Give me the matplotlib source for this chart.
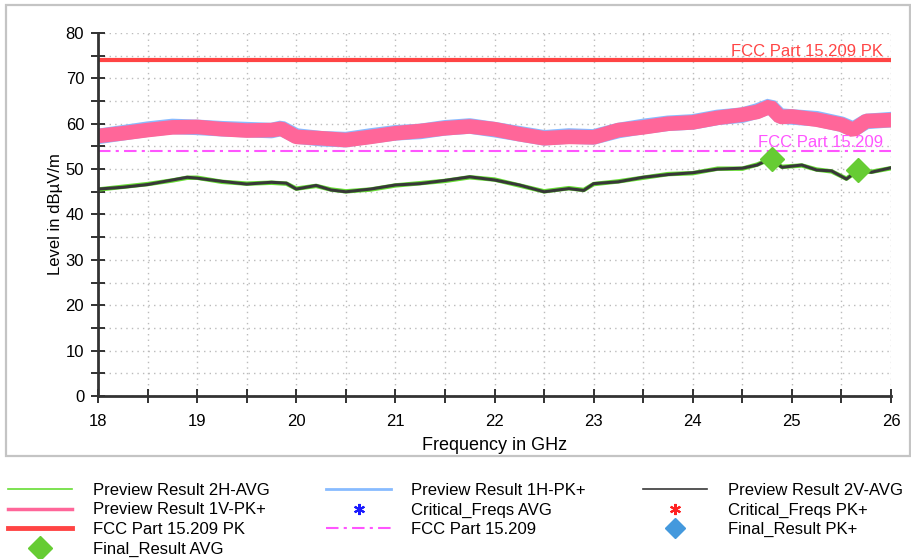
import matplotlib
matplotlib.use("Agg")
import matplotlib.pyplot as plt
from matplotlib.patches import Rectangle
from matplotlib.ticker import MultipleLocator

plt.rcParams['font.family'] = ['Liberation Sans', 'DejaVu Sans']

# peak preview scans (GHz / dBuV/m)
pk_freq = [18.0, 18.25, 18.5, 18.75, 19.0, 19.25, 19.5, 19.75, 19.85, 20.0,
           20.25, 20.5, 20.75, 21.0, 21.25, 21.5, 21.75, 22.0, 22.25, 22.5,
           22.75, 23.0, 23.25, 23.5, 23.75, 24.0, 24.25, 24.5, 24.65, 24.78,
           24.88, 25.0, 25.25, 25.5, 25.62, 25.75, 26.0]
pk_1v = [57.3, 57.9, 58.6, 59.2, 59.3, 58.8, 58.5, 58.6, 58.9, 57.1,
         56.8, 56.4, 57.1, 57.9, 58.4, 59.0, 59.4, 58.8, 57.7, 56.8,
         57.1, 57.0, 58.6, 59.2, 60.0, 60.3, 61.3, 62.0, 62.6, 63.8,
         61.5, 61.6, 60.9, 59.8, 58.6, 60.6, 60.8]
pk_1h = [57.2, 58.0, 58.8, 59.4, 59.2, 58.9, 58.7, 58.5, 59.0, 57.3,
         56.7, 56.5, 57.3, 58.0, 58.3, 59.1, 59.5, 58.7, 57.8, 56.9,
         57.3, 57.1, 58.5, 59.4, 60.1, 60.4, 61.4, 61.9, 62.8, 63.9,
         61.7, 61.5, 61.1, 59.9, 58.8, 60.5, 60.9]

# average preview scans
avg_freq = [18.0, 18.25, 18.5, 18.75, 18.9, 19.0, 19.25, 19.5, 19.75, 19.9,
            20.0, 20.2, 20.35, 20.5, 20.75, 21.0, 21.25, 21.5, 21.75, 22.0,
            22.25, 22.5, 22.75, 22.9, 23.0, 23.25, 23.5, 23.75, 24.0, 24.25,
            24.5, 24.65, 24.78, 24.9, 25.1, 25.25, 25.4, 25.55, 25.67, 25.8, 26.0]
avg_2v = [45.6, 46.0, 46.6, 47.6, 48.2, 48.0, 47.3, 46.7, 47.1, 46.9,
          45.6, 46.4, 45.4, 45.0, 45.6, 46.5, 46.8, 47.5, 48.3, 47.6,
          46.5, 45.0, 45.7, 45.3, 46.8, 47.2, 48.2, 48.8, 49.2, 50.0,
          50.2, 50.9, 52.3, 50.4, 50.9, 49.8, 49.6, 47.8, 49.8, 49.3, 50.3]
avg_2h = [45.5, 46.1, 46.7, 47.5, 48.1, 48.1, 47.2, 46.8, 47.0, 46.8,
          45.7, 46.3, 45.5, 45.1, 45.5, 46.4, 46.9, 47.4, 48.2, 47.7,
          46.4, 45.1, 45.8, 45.4, 46.7, 47.3, 48.1, 48.9, 49.1, 50.1,
          50.1, 51.0, 52.2, 50.5, 50.8, 49.9, 49.5, 47.9, 49.7, 49.4, 50.2]

# limits
limit_pk = 74.0
limit_avg = 54.0

# measured points
crit_avg_freq = [24.80, 25.68]
crit_avg_level = [52.6, 50.3]
final_avg_freq = [24.80, 25.67]
final_avg_level = [52.2, 49.8]

fig = plt.figure(figsize=(9.12, 5.59), dpi=100)
ax = fig.add_axes([0.1075, 0.2916, 0.8695, 0.6494])

# outer frame
fig.patches.append(Rectangle((6 / 912, 1 - 456 / 559), 904 / 912, 451 / 559,
                             transform=fig.transFigure, fill=False,
                             edgecolor='#c4c4c4', lw=1.6))

h_2h, = ax.plot(avg_freq, avg_2h, color='#66dd33', lw=3.2, zorder=2.2)
h_1h, = ax.plot(pk_freq, pk_1h, color='#88bbff', lw=11.2,
                solid_joinstyle='bevel', zorder=2)
h_2v, = ax.plot(avg_freq, avg_2v, color='#383838', lw=2.2, zorder=2.3)
h_1v, = ax.plot(pk_freq, pk_1v, color='#ff6699', lw=10.5,
                solid_joinstyle='bevel', zorder=2.1)
h_pk = ax.axhline(limit_pk, color='#ff4444', lw=3, zorder=2.4)
h_av, = ax.plot([18, 26], [limit_avg, limit_avg], color='#ff55ff', lw=1.5,
                ls=(0, (6, 2.5, 1.5, 2.5)), zorder=2.4)
h_cav, = ax.plot(crit_avg_freq, crit_avg_level, ls='none', marker=(6, 2, 0),
                 color='#1a1aff', ms=8, mew=1.5, zorder=3)
h_cpk, = ax.plot([], [], ls='none', marker=(6, 2, 0), color='#ff2222', ms=8, mew=1.5)
h_fpk, = ax.plot([], [], ls='none', marker='D', color='#4499dd', ms=10)
h_fav, = ax.plot(final_avg_freq, final_avg_level, ls='none', marker='D',
                 color='#66cc33', ms=12, zorder=3.1)

ax.text(25.92, limit_pk + 0.3, 'FCC Part 15.209 PK', color='#ff4444',
        ha='right', va='bottom', fontsize=12)
ax.text(25.92, limit_avg + 0.3, 'FCC Part 15.209', color='#ff55ff',
        ha='right', va='bottom', fontsize=12)

ax.set_xlim(18, 26)
ax.set_ylim(0, 80)
ax.xaxis.set_major_locator(MultipleLocator(1))
ax.xaxis.set_minor_locator(MultipleLocator(0.5))
ax.yaxis.set_major_locator(MultipleLocator(10))
ax.yaxis.set_minor_locator(MultipleLocator(5))
ax.tick_params(which='both', direction='inout', length=10, width=1.3,
               color='#222222', labelsize=12)
ax.tick_params(axis='y', pad=5)
ax.tick_params(axis='x', pad=8)
ax.grid(which='both', color='#bbbbbb', ls=(0, (1, 3)), lw=1)
for side in ['top', 'right']:
    ax.spines[side].set_visible(False)
for side in ['left', 'bottom']:
    ax.spines[side].set_color('#333333')
    ax.spines[side].set_linewidth(2)
ax.set_xlabel('Frequency in GHz', fontsize=13, labelpad=6)
ax.set_ylabel('Level in dBµV/m', fontsize=12, labelpad=2)

# legend handles in column order
handles = [h_2h, h_1v, h_pk, h_fav, h_1h, h_cav, h_av, h_2v, h_cpk, h_fpk]
labels = ['Preview Result 2H-AVG', 'Preview Result 1V-PK+', 'FCC Part 15.209 PK',
          'Final_Result AVG', 'Preview Result 1H-PK+', 'Critical_Freqs AVG',
          'FCC Part 15.209', 'Preview Result 2V-AVG', 'Critical_Freqs PK+',
          'Final_Result PK+']
leg = fig.legend(handles, labels, loc='upper left', ncol=3,
                 bbox_to_anchor=(8 / 912, 1 - 483 / 559), frameon=False,
                 fontsize=12, handlelength=3.85, handletextpad=1.25,
                 columnspacing=3.4, labelspacing=0.27, borderpad=0,
                 borderaxespad=0, numpoints=1)
legend_widths = {'#66dd33': 1.2, '#88bbff': 2, '#383838': 1.2,
                 '#ff6699': 2.5, '#ff4444': 3.5, '#ff55ff': 1.5}
for line in leg.get_lines():
    if line.get_color() in legend_widths:
        line.set_linewidth(legend_widths[line.get_color()])

plt.savefig('out.png', dpi=100)
